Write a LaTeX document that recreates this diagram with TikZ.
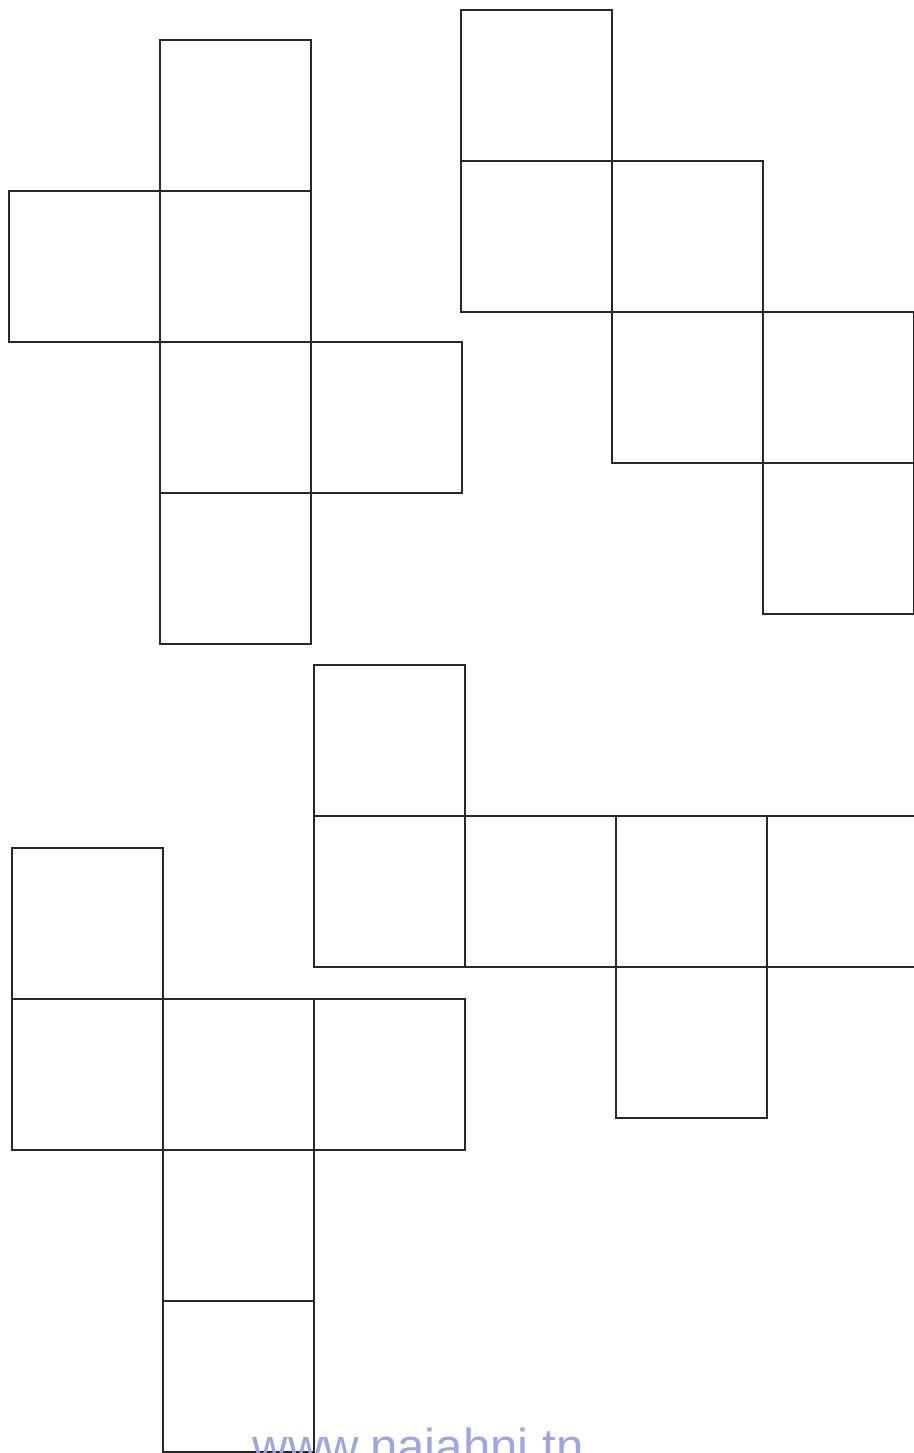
\documentclass[tikz,border=0pt]{standalone}
\usepackage{fontspec}
\setsansfont{Liberation Sans}
\usetikzlibrary{positioning}
\definecolor{netedge}{RGB}{40,40,40}
\definecolor{wmark}{RGB}{160,165,225}
\tikzset{
  face/.style={
    draw=netedge, line width=1pt, outer sep=0pt, inner sep=0pt,
    minimum width=3.02cm, minimum height=3.02cm
  },
  wm/.style={text=wmark, font=\fontsize{28}{32}\selectfont\sffamily, inner sep=0pt}
}

\begin{document}
\begin{tikzpicture}[x=0.02cm, y=-0.02cm, node distance=0pt]
  \useasboundingbox (0,0) rectangle (913,1453);
  % net 1
  \node[face, anchor=north west] (p1) at (160,40) {};
  \node[face, below=of p1] (p2) {};
  \node[face, left=of p2] (p3) {};
  \node[face, below=of p2] (p4) {};
  \node[face, right=of p4] (p5) {};
  \node[face, below=of p4] (p6) {};
  % net 2
  \begin{scope}[every node/.append style={minimum width=3.0cm}]
  \node[face, anchor=north west] (q1) at (461,10) {};
  \node[face, below=of q1] (q2) {};
  \node[face, right=of q2] (q3) {};
  \node[face, below=of q3] (q4) {};
  \node[face, right=of q4] (q5) {};
  \node[face, below=of q5] (q6) {};
  \end{scope}
  % net 3
  \begin{scope}[every node/.append style={minimum width=2.986cm, minimum height=3.014cm}]
  \node[face, anchor=north west] (r1) at (314,665) {};
  \node[face, below=of r1] (r2) {};
  \node[face, right=of r2] (r3) {};
  \node[face, right=of r3] (r4) {};
  \node[face, right=of r4] (r5) {};
  \node[face, below=of r4] (r6) {};
  \end{scope}
  % net 4
  \begin{scope}[every node/.append style={minimum height=3.01cm}]
  \node[face, anchor=north west] (s1) at (12,848) {};
  \node[face, below=of s1] (s2) {};
  \node[face, right=of s2] (s3) {};
  \node[face, right=of s3] (s4) {};
  \node[face, below=of s3] (s5) {};
  \node[face, below=of s5] (s6) {};
  \end{scope}
  \node[wm, anchor=base] (site) at (418,1463) {www.najahni.tn};
\end{tikzpicture}
\end{document}
